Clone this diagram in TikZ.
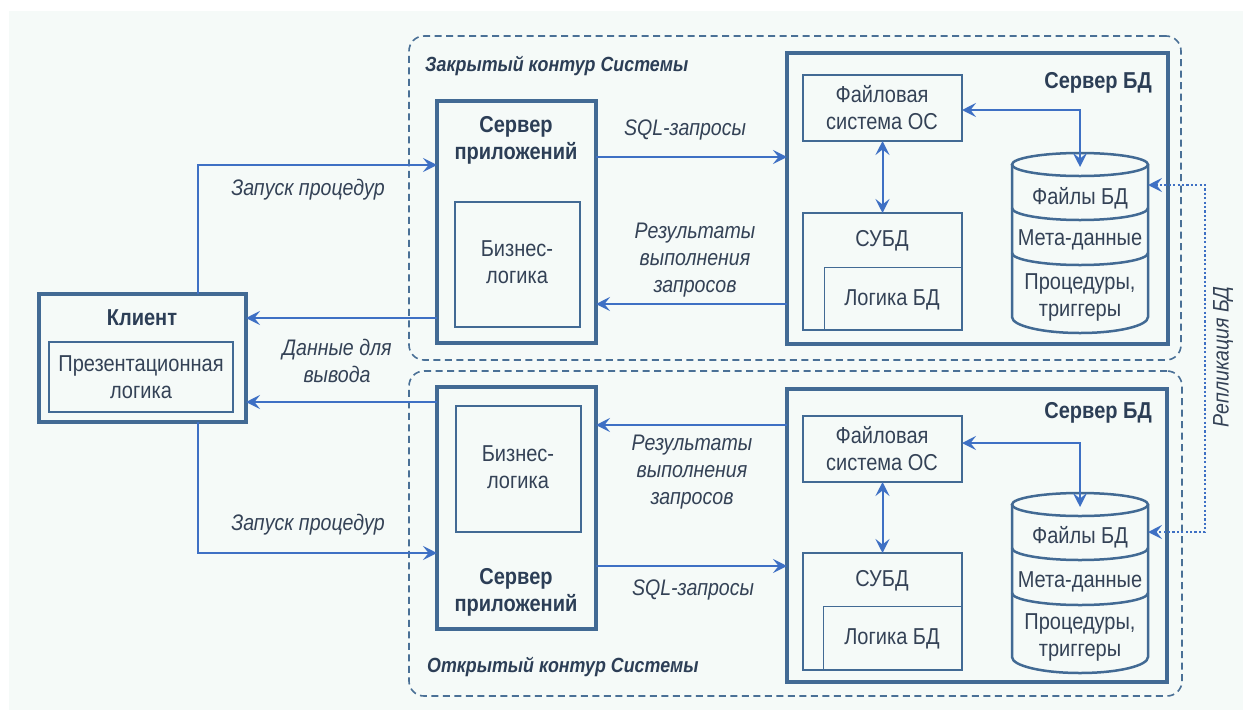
\documentclass[tikz,border=0pt]{standalone}
\usepackage{fontspec}
\setmainfont{Liberation Sans}[FakeStretch=0.87]
\usetikzlibrary{arrows.meta,calc}
\definecolor{bgc}{RGB}{245,250,248}
\definecolor{boxc}{RGB}{66,106,148}
\definecolor{arrc}{RGB}{62,112,196}
\definecolor{txtc}{RGB}{52,66,86}
\definecolor{ttlc}{RGB}{44,62,86}
\definecolor{contc}{RGB}{74,112,150}
\begin{document}
\begin{tikzpicture}[x=1pt,y=-1pt,
  box/.style={draw=boxc, line width=3.2pt, inner sep=0pt, outer sep=0pt, anchor=north west},
  inbox/.style={draw=boxc, line width=2.3pt, inner sep=0pt, outer sep=0pt, anchor=north west},
  contour/.style={draw=contc, line width=1.6pt, dash pattern=on 7pt off 4.5pt, rounded corners=15pt, inner sep=0pt, outer sep=0pt, anchor=north west},
  lab/.style={text=txtc, font=\fontsize{23}{27}\selectfont, align=center, inner sep=0pt},
  ttl/.style={text=ttlc, font=\fontsize{23}{27}\selectfont\bfseries, align=center, inner sep=0pt},
  ital/.style={text=txtc, font=\fontsize{22.5}{27}\selectfont\itshape, align=center, inner sep=0pt},
  ctitle/.style={text=ttlc, font=\fontsize{20.5}{25}\selectfont\bfseries\itshape, inner sep=0pt, anchor=west},
  arr/.style={draw=arrc, line width=2pt, -{Stealth[length=14pt,width=14pt,inset=5.5pt]}},
  darr/.style={draw=arrc, line width=2pt, {Stealth[length=14pt,width=14pt,inset=5.5pt]}-{Stealth[length=14pt,width=14pt,inset=5.5pt]}},
  rep/.style={draw=arrc, line width=2.2pt, dash pattern=on 2.2pt off 2.2pt, {Stealth[length=14pt,width=14pt,inset=5.5pt]}-{Stealth[length=14pt,width=14pt,inset=5.5pt]}},
  cylinv/.style={inner sep=0pt, outer sep=0pt, minimum width=136pt, minimum height=180pt, anchor=north}
]
\useasboundingbox (0,0) rectangle (1243,710);
\fill[white] (0,0) rectangle (1243,710);
\fill[bgc] (9,11) rectangle (1243,710);

% contours
\node[contour, minimum width=772pt, minimum height=324pt] (closedC) at (409,36) {};
\node[contour, minimum width=773pt, minimum height=325pt] (openC) at (409,371) {};
\node[ctitle] (closedT) at (425,66) {Закрытый контур Системы};
\node[ctitle] (openT) at (427,667) {Открытый контур Системы};

% client
\node[box, minimum width=207pt, minimum height=128pt] (client) at (39,294) {};
\node[inbox, minimum width=184pt, minimum height=70pt] (pres) at (49,342) {};
\node[ttl] (tClient) at (142,318) {Клиент};
\node[lab] (tPres) at (141,377) {Презентационная\\логика};

% application servers
\node[box, minimum width=159pt, minimum height=242pt] (appT) at (437,101) {};
\node[inbox, minimum width=125pt, minimum height=125pt] (bizT) at (455,202) {};
\node[ttl] (tAppT) at (516,140) {Сервер\\приложений};
\node[lab] (tBizT) at (517,262) {Бизнес-\\логика};

\node[box, minimum width=159pt, minimum height=242pt] (appB) at (437,387) {};
\node[inbox, minimum width=125pt, minimum height=126pt] (bizB) at (456,406) {};
\node[ttl] (tAppB) at (516,592) {Сервер\\приложений};
\node[lab] (tBizB) at (518,467) {Бизнес-\\логика};

% DB server top
\node[box, minimum width=381pt, minimum height=291pt] (dbT) at (787,53) {};
\node[ttl, anchor=east] (tDbT) at (1152,83) {Сервер БД};
\node[inbox, minimum width=159pt, minimum height=66pt] (fsT) at (803,75) {};
\node[lab] (tFsT) at (882,108) {Файловая\\система ОС};
\node[inbox, minimum width=159pt, minimum height=117pt] (dbmsT) at (803,213) {};
\node[lab] (tDbmsT) at (882,241) {СУБД};
\draw[boxc, line width=1pt] (824,330) -- (824,267) -- (962,267);
\node[lab] (tLogT) at (892,300) {Логика БД};

% DB server bottom
\node[box, minimum width=380pt, minimum height=293pt] (dbB) at (787,389) {};
\node[ttl, anchor=east] (tDbB) at (1152,413) {Сервер БД};
\node[inbox, minimum width=159pt, minimum height=66pt] (fsB) at (803,416) {};
\node[lab] (tFsB) at (882,449) {Файловая\\система ОС};
\node[inbox, minimum width=159pt, minimum height=117pt] (dbmsB) at (803,553) {};
\node[lab] (tDbmsB) at (882,581) {СУБД};
\draw[boxc, line width=1pt] (823,670) -- (823,606) -- (962,606);
\node[lab] (tLogB) at (892,639) {Логика БД};

% cylinders
\newcommand\dbcyl[1]{%
  \fill[bgc] (1012,{#1+11.5}) -- (1012,{#1+164}) arc[start angle=180,end angle=360,x radius=68pt,y radius=16pt] -- (1148,{#1+11.5}) -- cycle;
  \draw[boxc, line width=2.5pt] (1012,{#1+11.5}) -- (1012,{#1+164}) arc[start angle=180,end angle=360,x radius=68pt,y radius=16pt] -- (1148,{#1+11.5});
  \draw[boxc, line width=2.5pt, fill=bgc] (1080,{#1+11.5}) ellipse[x radius=68pt, y radius=11.5pt];
  \draw[boxc, line width=2.5pt] (1012,{#1+55}) arc[start angle=180,end angle=360,x radius=68pt,y radius=12pt];
  \draw[boxc, line width=2.5pt] (1012,{#1+100}) arc[start angle=180,end angle=360,x radius=68pt,y radius=12pt];
}
\dbcyl{153}
\dbcyl{493}
\node[cylinv] (cylT) at (1080,153) {};
\node[cylinv] (cylB) at (1080,493) {};
\node[lab] (tF1) at (1080,198) {Файлы БД};
\node[lab] (tM1) at (1080,240) {Мета-данные};
\node[lab] (tP1) at (1080,297) {Процедуры,\\триггеры};
\node[lab] (tF2) at (1080,537) {Файлы БД};
\node[lab] (tM2) at (1080,582) {Мета-данные};
\node[lab] (tP2) at (1080,637) {Процедуры,\\триггеры};

% connectors inside DB servers
\draw[darr] (fsT.south) -- (dbmsT.north);
\draw[darr] (fsB.south) -- (dbmsB.north);
\draw[darr] ([yshift=-2pt]fsT.east) -| ([yshift=-14pt]cylT.north);
\draw[darr] ([yshift=6pt]fsB.east) -| ([yshift=-14pt]cylB.north);

% replication
\draw[rep] ([yshift=58pt]cylT.east) -- ++(57,0) |- ([yshift=51pt]cylB.east);
\node[ital, rotate=90] (tRep) at (1223,357) {Репликация БД};

% client <-> application servers
\draw[arr] ([xshift=55.5pt]client.north) |- ([yshift=57pt]appT.west);
\draw[arr] ([xshift=55.5pt]client.south) |- ([yshift=-45pt]appB.west);
\draw[arr] ([yshift=-96pt]appT.west) coordinate (d1) -- (d1 -| client.east);
\draw[arr] ([yshift=106pt]appB.west) coordinate (d2) -- (d2 -| client.east);
\node[ital] (tRunT) at (308,190) {Запуск процедур};
\node[ital] (tRunB) at (308,525) {Запуск процедур};
\node[ital] (tData) at (337,361) {Данные для\\вывода};

% application servers <-> DB servers
\draw[arr] ([yshift=65pt]appT.east) coordinate (s1) -- (s1 -| dbT.west);
\draw[arr] ([yshift=-105.5pt]dbT.west) coordinate (r1) -- (r1 -| appT.east);
\draw[arr] ([yshift=110.5pt]dbB.west) coordinate (r2) -- (r2 -| appB.east);
\draw[arr] ([yshift=-58pt]appB.east) coordinate (s2) -- (s2 -| dbB.west);
\node[ital] (tSqlT) at (685,130) {SQL-запросы};
\node[ital] (tSqlB) at (693,590) {SQL-запросы};
\node[ital] (tResT) at (695,260) {Результаты\\выполнения\\запросов};
\node[ital] (tResB) at (692,472) {Результаты\\выполнения\\запросов};
\end{tikzpicture}
\end{document}
